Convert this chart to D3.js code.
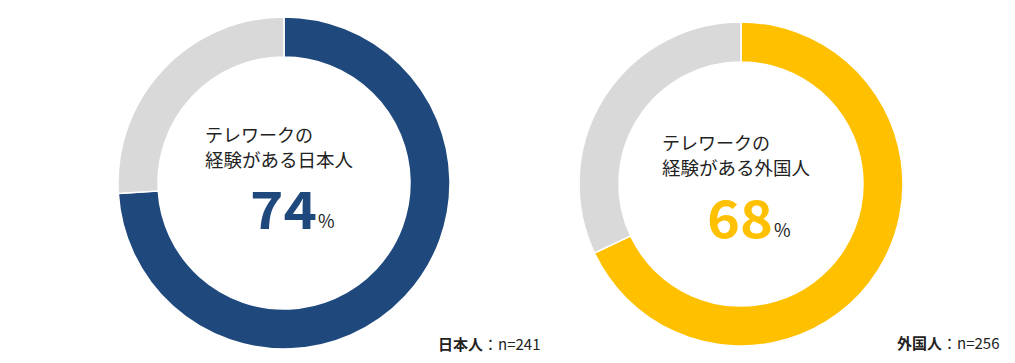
<!DOCTYPE html>
<html>
<head>
<meta charset="utf-8">
<script src="https://cdn.jsdelivr.net/npm/d3@7"></script>
<style>
  body { margin: 0; background: #fff; }
  svg { display: block; font-family: "Noto Sans CJK JP", "Noto Sans", sans-serif; }
</style>
</head>
<body>
<div id="chart"></div>
<script>
// telework experience donuts (Japanese vs foreign residents)
const groups = ["日本人", "外国人"];
const experiencedPct = [74, 68];
const sampleSizes = [241, 256];
const captionLine1 = ["テレワークの", "テレワークの"];
const captionLine2 = ["経験がある日本人", "経験がある外国人"];
const mainColors = ["#1f497d", "#ffc000"];
const restColor = "#d9d9d9";

const width = 1015, height = 363;

const svg = d3.select("#chart").append("svg")
    .attr("width", width)
    .attr("height", height);

// layout per donut
const layout = [
    { cx: 284, cy: 183, r: 166, ring: 40, textX: 205, numX: 250, numW: 67, numY: 229, nX: 438 },
    { cx: 741, cy: 184, r: 162, ring: 40, textX: 662, numX: 707, numW: 66, numY: 238, nX: 897 }
];

const pie = d3.pie().sort(null).value(d => d);

groups.forEach((g, i) => {
    const L = layout[i];
    const arc = d3.arc().innerRadius(L.r - L.ring).outerRadius(L.r);
    const grp = svg.append("g").attr("transform", `translate(${L.cx},${L.cy})`);

    grp.selectAll("path")
        .data(pie([experiencedPct[i], 100 - experiencedPct[i]]))
        .enter()
        .append("path")
        .attr("d", arc)
        .attr("fill", (d, k) => k === 0 ? mainColors[i] : restColor)
        .attr("stroke", "#fff")
        .attr("stroke-width", 1.5);

    // caption in the hole
    svg.append("text")
        .attr("x", L.textX).attr("y", L.numY - 87 + (i === 1 ? -1 : 0))
        .style("font-size", "18px").attr("fill", "#222")
        .text(captionLine1[i]);
    svg.append("text")
        .attr("x", L.textX).attr("y", L.numY - 62 + (i === 1 ? -1 : 0))
        .style("font-size", "18.5px").attr("fill", "#222")
        .text(captionLine2[i]);

    // big number
    svg.append("text")
        .attr("x", L.numX).attr("y", L.numY)
        .attr("textLength", L.numW)
        .attr("lengthAdjust", "spacingAndGlyphs")
        .style("font-size", "52px").style("font-weight", "bold")
        .attr("fill", mainColors[i])
        .text(experiencedPct[i]);
    svg.append("text")
        .attr("x", L.numX + L.numW + 1).attr("y", L.numY - 1)
        .style("font-size", "18px").attr("fill", "#222")
        .text("%");

    // sample size note
    const note = svg.append("text")
        .attr("x", L.nX).attr("y", 350 - i)
        .style("font-size", "15px").attr("fill", "#222");
    note.append("tspan").style("font-weight", "bold").text(g);
    note.append("tspan").text("：n=" + sampleSizes[i]);
});
</script>
</body>
</html>
